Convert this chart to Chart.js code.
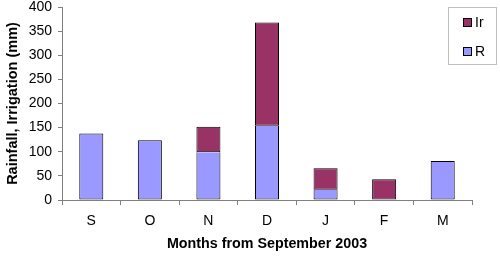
<!DOCTYPE html>
<html>
<head>
<meta charset="utf-8">
<script src="https://cdn.jsdelivr.net/npm/chart.js@4/dist/chart.umd.min.js"></script>
<style>
  html, body { margin: 0; padding: 0; background: #fff; }
  #wrap { width: 500px; height: 259px; position: relative; }
</style>
</head>
<body>
<div id="wrap"><canvas id="rainChart"></canvas></div>
<script>
// Monthly rainfall (R) and irrigation (Ir), stacked, from September 2003
const months = ["S", "O", "N", "D", "J", "F", "M"];
const rainfall = [138, 124, 99, 154, 21, 0, 81];
const irrigation = [0, 0, 53, 214, 45, 43, 0];
const yTicks = [0, 50, 100, 150, 200, 250, 300, 350, 400];

const FONT = "'Liberation Sans', Arial, sans-serif";

// no outline on empty segments
function edge(c) {
    return c.raw === 0 ? 0 : 1;
}

// Legend drawn by hand: boxed, in the top right corner, overlapping the plot
const boxLegend = {
    id: "boxLegend",
    afterDraw(chart) {
        const ctx = chart.ctx;
        const ds = chart.data.datasets;
        ctx.save();
        ctx.strokeStyle = "#c0c0c0";
        ctx.lineWidth = 1;
        ctx.strokeRect(448.5, 7.5, 48, 57);
        ctx.font = "14px " + FONT;
        ctx.textBaseline = "middle";
        ctx.textAlign = "left";
        // Ir on top, R below (reverse of dataset order)
        const rows = [ds[1], ds[0]];
        rows.forEach(function(d, i) {
            const y = 23 + i * 29;
            ctx.fillStyle = d.backgroundColor;
            ctx.fillRect(463.5, y - 4.5, 8, 8);
            ctx.strokeStyle = "#000";
            ctx.strokeRect(463.5, y - 4.5, 8, 8);
            ctx.fillStyle = "#000";
            ctx.fillText(d.label, 475, y);
        });
        ctx.restore();
    }
};

new Chart(document.getElementById("rainChart"), {
    type: "bar",
    data: {
        labels: months,
        datasets: [
            {
                label: "R",
                data: rainfall,
                backgroundColor: "#9999FF",
                borderColor: "#000000",
                borderWidth: edge,
                // let the Ir segment draw the shared edge
                borderSkipped: function(c) {
                    return irrigation[c.dataIndex] > 0 ? "top" : false;
                },
                barPercentage: 0.41,
                categoryPercentage: 1
            },
            {
                label: "Ir",
                data: irrigation,
                backgroundColor: "#993366",
                borderColor: "#000000",
                borderWidth: edge,
                borderSkipped: false,
                barPercentage: 0.41,
                categoryPercentage: 1
            }
        ]
    },
    options: {
        responsive: true,
        maintainAspectRatio: false,
        animation: false,
        layout: { padding: { top: 7, right: 28, left: 0, bottom: 0 } },
        plugins: {
            legend: { display: false },
            tooltip: { enabled: false }
        },
        scales: {
            x: {
                stacked: true,
                afterFit: function(scale) {
                    scale.height = 59;
                    scale.paddingLeft = 0;
                    scale.paddingRight = 0;
                },
                border: { color: "#808080", width: 1 },
                grid: {
                    offset: true,
                    drawOnChartArea: false,
                    drawTicks: true,
                    tickLength: 5,
                    color: "#808080"
                },
                ticks: {
                    color: "#000",
                    padding: 8,
                    font: { family: FONT, size: 14 }
                },
                title: {
                    display: true,
                    text: "Months from September 2003",
                    color: "#000",
                    padding: { top: 8, bottom: 6 },
                    font: { family: FONT, size: 14.3, weight: "bold" }
                }
            },
            y: {
                stacked: true,
                min: 0,
                max: 400,
                afterFit: function(scale) {
                    scale.width = 62;
                    scale.paddingTop = 0;
                    scale.paddingBottom = 0;
                },
                afterBuildTicks: function(scale) {
                    scale.ticks = yTicks.map(function(v) { return { value: v }; });
                },
                border: { color: "#808080", width: 1 },
                grid: {
                    drawOnChartArea: false,
                    drawTicks: true,
                    tickLength: 4,
                    color: "#808080"
                },
                ticks: {
                    color: "#000",
                    padding: 6,
                    font: { family: FONT, size: 14 }
                },
                title: {
                    display: true,
                    text: "Rainfall, Irrigation (mm)",
                    color: "#000",
                    padding: { top: 4, bottom: 0 },
                    font: { family: FONT, size: 14.5, weight: "bold" }
                }
            }
        }
    },
    plugins: [boxLegend]
});
</script>
</body>
</html>
